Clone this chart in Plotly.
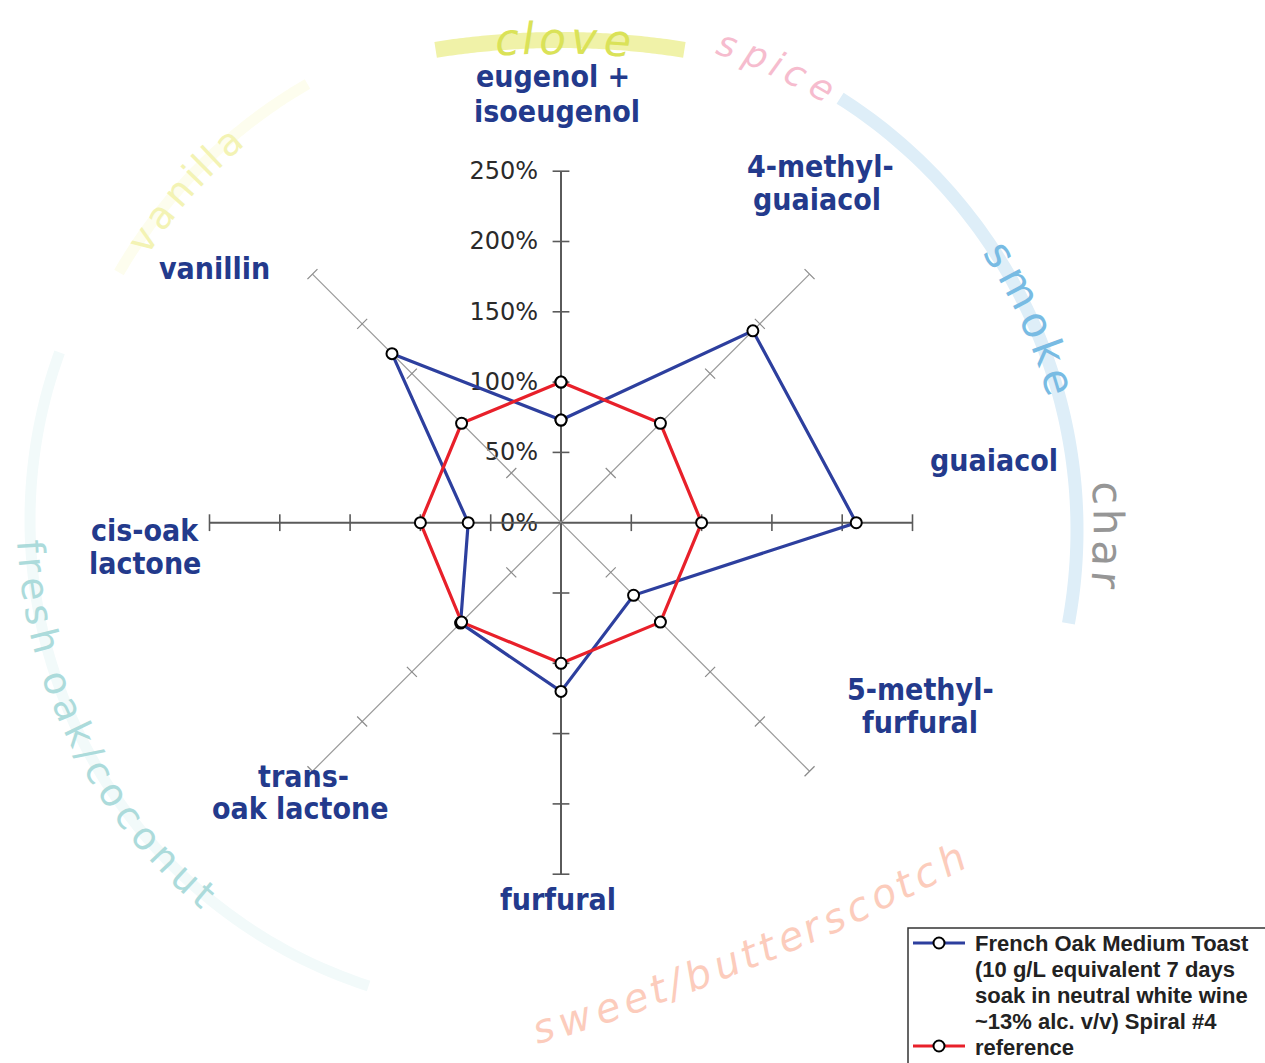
import numpy as np
import plotly.graph_objects as go

W, H = 1265, 1063

# ---------------- data ----------------
categories = ["eugenol + isoeugenol", "4-methyl-guaiacol", "guaiacol", "5-methyl-furfural",
              "furfural", "trans-oak lactone", "cis-oak lactone", "vanillin"]
french_oak = [73, 193, 210, 73, 120, 101, 66, 170]
reference = [100, 100, 100, 100, 100, 100, 100, 100]
radial_ticks = [0, 50, 100, 150, 200, 250]
radial_tick_text = [f"{v}%" for v in radial_ticks]
series_names = ["French Oak Medium Toast", "reference"]
series_note = ["(10 g/L equivalent 7 days", "soak in neutral white wine", "~13% alc. v/v) Spiral #4"]
series_colors = ["#2d3f9e", "#e8202a"]

# category label lines (text, pixel x, pixel y)
label_lines = [
    ("eugenol +", 553, 77), ("isoeugenol", 557, 111),
    ("4-methyl-", 820, 166), ("guaiacol", 817, 200),
    ("guaiacol", 994, 461),
    ("5-methyl-", 920, 689), ("furfural", 920, 722),
    ("furfural", 558, 899),
    ("trans-", 303, 776), ("oak lactone", 300, 808),
    ("cis-oak", 145, 530), ("lactone", 145, 563),
    ("vanillin", 214, 268),
]

# flavour words around the chart
flavour_words = ["clove", "spice", "smoke", "char", "sweet/butterscotch", "fresh oak/coconut", "vanilla"]
flavour_colors = ["rgb(218,226,88)", "rgb(246,188,206)", "rgb(120,187,227)", "rgb(150,150,150)",
                  "rgb(252,204,188)", "rgb(172,219,219)", "rgb(243,243,180)"]

# ---------------- geometry helpers (styling) ----------------
CX, CY, RAD = 561.0, 522.7, 351.5


def paper(x, y):
    return x / W, 1 - y / H


DV = {"s": .521, "w": .818, "e": .615, "t": .392, "/": .337, "b": .635, "u": .634, "r": .411,
      "c": .550, "o": .612, "h": .634, "l": .278, "v": .592, "p": .635, "i": .278, "k": .579,
      "m": .974, "a": .613, "n": .634, "f": .352, " ": .318}

annotations = []
shapes = []


def curved(text, cx, cy, R, center_deg, size, color, cw=True, italic=False, spacing=1.0):
    adv = np.array([DV.get(ch, .6) * size * spacing for ch in text])
    pos = np.cumsum(adv) - adv / 2 - adv.sum() / 2
    for ch, s in zip(text, pos):
        if ch == " ":
            continue
        d = np.degrees(s / R)
        if cw:
            phi = center_deg - d
            rot = 90 - phi
        else:
            phi = center_deg + d
            rot = 270 - phi
        x = cx + R * np.cos(np.radians(phi))
        y = cy - R * np.sin(np.radians(phi))
        px, py = paper(x, y)
        annotations.append(dict(x=px, y=py, xref="paper", yref="paper", text=ch, showarrow=False,
                                textangle=rot, xanchor="center", yanchor="middle",
                                font=dict(family="DejaVu Sans", size=size, color=color,
                                          style="italic" if italic else "normal")))


def band(cx, cy, R, p0, p1, color, width):
    ph = np.radians(np.linspace(p0, p1, 80))
    pts = [paper(cx + R * np.cos(a), cy - R * np.sin(a)) for a in ph]
    path = "M " + " L ".join(f"{x:.5f},{y:.5f}" for x, y in pts)
    shapes.append(dict(type="path", xref="paper", yref="paper", path=path, layer="below",
                       line=dict(color=color, width=width)))


# bands
band(560, 835, 795, 99.0, 81.0, "rgb(240,242,168)", 16)
band(565, 530, 512, 57.5, -10.5, "rgb(222,238,248)", 13)
band(565, 530, 515, 150, 120, "rgb(253,253,238)", 11)
band(520, 520, 490, 160, 252, "rgb(242,250,250)", 11)

# words
curved(flavour_words[0], 560, 835, 797, 89.8, 44, flavour_colors[0], cw=True, italic=True, spacing=1.22)
curved(flavour_words[1], 565, 530, 512, 65.5, 36, flavour_colors[1], cw=True, italic=True, spacing=1.42)
curved(flavour_words[2], 565, 530, 515, 24.4, 42, flavour_colors[2], cw=True, spacing=1.22)
curved(flavour_words[3], 565, 530, 543, -0.5, 42, flavour_colors[3], cw=True, spacing=1.2)
curved(flavour_words[4], -170, -1280, 2416, -67.56, 40, flavour_colors[4], cw=False, italic=True, spacing=1.22)
curved(flavour_words[5], 520, 520, 490, 206.6, 38, flavour_colors[5], cw=False, spacing=1.22)
curved(flavour_words[6], 565, 530, 513, 138.2, 38, flavour_colors[6], cw=True, spacing=1.28)

# category labels
for txt, x, y in label_lines:
    px, py = paper(x, y)
    annotations.append(dict(x=px, y=py, xref="paper", yref="paper", text=txt, showarrow=False,
                            xanchor="center", yanchor="middle",
                            font=dict(family="Liberation Sans Narrow, Arial Narrow, DejaVu Sans Condensed, sans-serif",
                                      size=30, color="#233a8c", weight="bold")))

# ---------------- legend box (drawn, with tight line spacing as in the original) ----------------
LX, LY = 908, 928
shapes.append(dict(type="rect", xref="paper", yref="paper",
                   x0=LX / W, x1=(W + 20) / W, y0=1 - (H + 20) / H, y1=1 - LY / H,
                   line=dict(color="#333", width=1.5), fillcolor="white", layer="above"))
legend_font = dict(family="Liberation Sans, Arial, sans-serif", size=22, color="#222", weight="bold")
text_lines = [(series_names[0], 943)] + [(t, y) for t, y in zip(series_note, [969, 995, 1021])] + \
             [(series_names[1], 1047)]
for t, y in text_lines:
    px, py = paper(973, y)
    annotations.append(dict(x=px, y=py, xref="paper", yref="paper", text=t, showarrow=False,
                            xanchor="left", yanchor="middle", font=legend_font))
for col, y in zip(series_colors, [943, 1046]):
    shapes.append(dict(type="line", xref="paper", yref="paper", x0=913 / W, x1=965 / W,
                       y0=1 - y / H, y1=1 - y / H, line=dict(color=col, width=3), layer="above"))
    shapes.append(dict(type="circle", xref="paper", yref="paper", x0=933.5 / W, x1=944.5 / W,
                       y0=1 - (y + 5.5) / H, y1=1 - (y - 5.5) / H,
                       line=dict(color="black", width=2), fillcolor="white", layer="above"))

# ---------------- traces ----------------
fig = go.Figure()

tick_symbols = ["line-ew", "line-nw", "line-ns", "line-ne", "line-ew", "line-nw", "line-ns", "line-ne"]
for i, cat in enumerate(categories):
    main = i % 2 == 0
    fig.add_trace(go.Scatterpolar(
        r=[radial_ticks[0], radial_ticks[-1]], theta=[cat, cat], mode="lines",
        line=dict(color="#5a5a5a" if main else "#9a9a9a", width=2 if main else 1.2),
        showlegend=False, hoverinfo="skip"))
    fig.add_trace(go.Scatterpolar(
        r=radial_ticks[1:], theta=[cat] * (len(radial_ticks) - 1), mode="markers",
        marker=dict(symbol=tick_symbols[i], size=12 if main else 10,
                    line=dict(color="#5a5a5a" if main else "#8a8a8a", width=1.6 if main else 1.2)),
        showlegend=False, hoverinfo="skip"))

marker_style = dict(symbol="circle", size=11, color="white", line=dict(color="black", width=2))
fig.add_trace(go.Scatterpolar(
    r=french_oak + french_oak[:1], theta=categories + categories[:1], mode="lines+markers",
    name=series_names[0], line=dict(color=series_colors[0], width=3.2), marker=marker_style,
    showlegend=False))
fig.add_trace(go.Scatterpolar(
    r=reference + reference[:1], theta=categories + categories[:1], mode="lines+markers",
    name=series_names[1], line=dict(color=series_colors[1], width=3.2), marker=marker_style,
    showlegend=False))

dx0, dx1 = (CX - RAD) / W, (CX + RAD) / W
cyp = 1 - CY / H
fig.update_layout(
    width=W, height=H, autosize=False,
    margin=dict(l=0, r=0, t=0, b=0, autoexpand=False),
    paper_bgcolor="white",
    showlegend=False,
    hovermode=False,
    polar=dict(
        domain=dict(x=[dx0, dx1], y=[cyp - RAD / H, cyp + RAD / H]),
        bgcolor="rgba(0,0,0,0)",
        angularaxis=dict(type="category", categoryorder="array", categoryarray=categories,
                         rotation=90, direction="clockwise", showgrid=False, showline=False,
                         showticklabels=False, ticks=""),
        radialaxis=dict(range=[0, 250], angle=90, side="counterclockwise", showgrid=False,
                        showline=False, tickmode="array", tickvals=radial_ticks,
                        ticktext=radial_tick_text, tickangle=90,
                        ticks="outside", ticklen=14, tickcolor="rgba(0,0,0,0)",
                        layer="below traces",
                        tickfont=dict(family="DejaVu Sans", size=24, color="#2a2a2a")),
    ),
    annotations=annotations,
    shapes=shapes,
)

fig.write_html("out.html", config={"displayModeBar": False},
               post_script="document.body.style.margin='0';document.body.style.overflow='hidden';")
